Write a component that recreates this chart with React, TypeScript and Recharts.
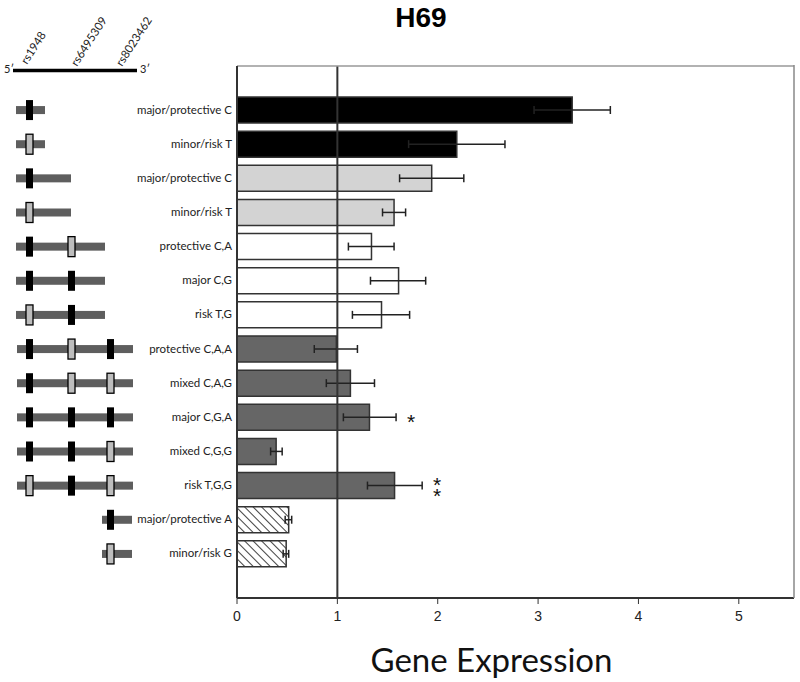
import { BarChart, Bar, XAxis, YAxis, ErrorBar, ReferenceLine, Cell, LabelList } from 'recharts'

const labels = [
  'major/protective C', 'minor/risk T', 'major/protective C', 'minor/risk T',
  'protective C,A', 'major C,G', 'risk T,G',
  'protective C,A,A', 'mixed C,A,G', 'major C,G,A', 'mixed C,G,G', 'risk T,G,G',
  'major/protective A', 'minor/risk G',
]
const means = [3.34, 2.19, 1.94, 1.565, 1.34, 1.61, 1.44, 0.99, 1.13, 1.32, 0.39, 1.57, 0.515, 0.49]
const lows = [2.96, 1.71, 1.62, 1.45, 1.11, 1.33, 1.15, 0.77, 0.89, 1.06, 0.335, 1.3, 0.48, 0.46]
const highs = [3.72, 2.67, 2.26, 1.68, 1.565, 1.88, 1.72, 1.2, 1.37, 1.585, 0.45, 1.845, 0.545, 0.515]
const groups = ['a', 'a', 'b', 'b', 'c', 'c', 'c', 'd', 'd', 'd', 'd', 'd', 'e', 'e']
const sig = ['', '', '', '', '', '', '', '', '', '*', '', '**', '', '']
const snps = ['rs1948', 'rs6495309', 'rs8023462']
// allele at each SNP: 1 = major (black), 2 = minor (grey), 0 = not in construct
const alleles = [
  [1, 0, 0], [2, 0, 0], [1, 0, 0], [2, 0, 0],
  [1, 2, 0], [1, 1, 0], [2, 1, 0],
  [1, 2, 1], [1, 2, 2], [1, 1, 1], [1, 1, 2], [2, 1, 2],
  [0, 0, 1], [0, 0, 2],
]
const constructs = ['s1', 's1', 's1x', 's1x', 's12', 's12', 's12', 's123', 's123', 's123', 's123', 's123', 's3', 's3']
const xTicks = [0, 1, 2, 3, 4, 5]
const xMax = 5.55

const fills: Record<string, string> = { a: '#000', b: '#d3d3d3', c: '#fff', d: '#666', e: 'url(#hatch)' }
const spans: Record<string, number[]> = { s1: [16, 45], s1x: [16, 71], s12: [16, 105], s123: [17, 133], s3: [102, 132] }
const snpX = [29.5, 71.5, 110.5]
const snpLabelPos = [[27, 65], [77, 67], [122, 67]]

const data = labels.map((label, i) => ({
  label,
  mean: means[i],
  err: [means[i] - lows[i], highs[i] - means[i]],
  group: groups[i],
  sig: sig[i],
}))

const labelFont = 'Lato, "Open Sans", sans-serif'

function RowTick(props: any) {
  const { y, payload } = props
  const i = props.index ?? payload.index
  const [x1, x2] = spans[constructs[i]]
  return (
    <g>
      <rect x={x1} y={y - 4} width={x2 - x1} height={8} fill="#5e5e5e" />
      {alleles[i].map((a, k) =>
        a ? (
          <rect
            key={k}
            x={snpX[k] - 3.5}
            y={y - 10}
            width={7}
            height={20}
            fill={a === 1 ? '#000' : '#bdbdbd'}
            stroke="#000"
            strokeWidth={a === 1 ? 0 : 1.3}
          />
        ) : null
      )}
      <text x={232} y={y - 1} textAnchor="end" dominantBaseline="central" fontFamily={labelFont} fontSize={11.5} fill="#222">
        {payload.value}
      </text>
    </g>
  )
}

function StarLabel(props: any) {
  const { x, y, width, height, index, value } = props
  if (!value) return null
  const px = width / means[index]
  const sx = x + highs[index] * px + 15
  const cy = y + height / 2
  const stars = String(value).split('')
  const top = cy - ((stars.length - 1) / 2) * 11 + 12
  return (
    <text x={sx} y={top} textAnchor="middle" fontFamily="Liberation Sans, Arial" fontSize={21} fill="#111">
      {stars.map((s, k) => (
        <tspan key={k} x={sx} dy={k === 0 ? 0 : 11}>
          {s}
        </tspan>
      ))}
    </text>
  )
}

export default function App() {
  return (
    <div style={{ position: 'absolute', left: 0, top: 0, width: 800, height: 682, background: '#fff' }}>
      <BarChart
        layout="vertical"
        width={800}
        height={682}
        data={data}
        margin={{ top: 65, right: 6, bottom: 0, left: 0 }}
        barSize={26}
      >
        <defs>
          <pattern id="hatch" width="6" height="6" patternUnits="userSpaceOnUse" patternTransform="rotate(-45)">
            <rect width="6" height="6" fill="#fff" />
            <line x1="0" y1="0" x2="0" y2="6" stroke="#111" strokeWidth="1.6" />
          </pattern>
        </defs>
        <XAxis
          xAxisId="top"
          orientation="top"
          type="number"
          domain={[0, xMax]}
          ticks={[]}
          height={1}
          tick={false}
          tickLine={false}
          axisLine={{ stroke: '#999', strokeWidth: 1.5 }}
        />
        <XAxis
          type="number"
          domain={[0, xMax]}
          ticks={xTicks}
          allowDataOverflow
          height={84}
          tickSize={6}
          tickMargin={7}
          stroke="#333"
          axisLine={{ stroke: '#333', strokeWidth: 2 }}
          tick={{ fontSize: 14, fill: '#222', fontFamily: 'Liberation Sans, Arial' }}
          label={{
            content: (p: any) => {
              const vb = p.viewBox
              return (
                <text x={vb.x + vb.width / 2 - 24} y={672} textAnchor="middle" fontFamily={labelFont} fontSize={33} fill="#111">
                  Gene Expression
                </text>
              )
            },
          }}
        />
        <YAxis
          type="category"
          dataKey="label"
          width={237}
          interval={0}
          tickLine={false}
          padding={{ top: 27, bottom: 27 }}
          axisLine={{ stroke: '#333', strokeWidth: 2 }}
          tick={(p: any) => <RowTick {...p} />}
        />
        <Bar dataKey="mean" isAnimationActive={false} stroke="#333" strokeWidth={1.5}>
          {data.map((d, i) => (
            <Cell key={i} fill={fills[d.group]} />
          ))}
          <ErrorBar dataKey="err" direction="x" width={4} stroke="#222" strokeWidth={1.5} />
          <LabelList dataKey="sig" content={(p: any) => <StarLabel {...p} />} />
        </Bar>
        <ReferenceLine x={1} stroke="#333" strokeWidth={2} />
      </BarChart>
      <svg width={800} height={682} style={{ position: 'absolute', left: 0, top: 0, pointerEvents: 'none' }}>
        <text x={421} y={27} textAnchor="middle" fontFamily="Liberation Sans, Arial" fontWeight="bold" fontSize={28} fill="#000">
          H69
        </text>
        <line x1={794} y1={65} x2={794} y2={598} stroke="#888" strokeWidth={1.5} />
        <text x={4} y={73} fontFamily={labelFont} fontSize={11} fill="#222">5′</text>
        <line x1={13} y1={70.5} x2={137} y2={70.5} stroke="#000" strokeWidth={3.5} />
        <text x={140} y={73} fontFamily={labelFont} fontSize={11} fill="#222">3′</text>
        {snps.map((s, k) => (
          <text
            key={s}
            x={snpLabelPos[k][0]}
            y={snpLabelPos[k][1]}
            transform={`rotate(-57 ${snpLabelPos[k][0]} ${snpLabelPos[k][1]})`}
            fontFamily={labelFont}
            fontSize={11.5}
            fill="#222"
          >
            {s}
          </text>
        ))}
      </svg>
    </div>
  )
}
